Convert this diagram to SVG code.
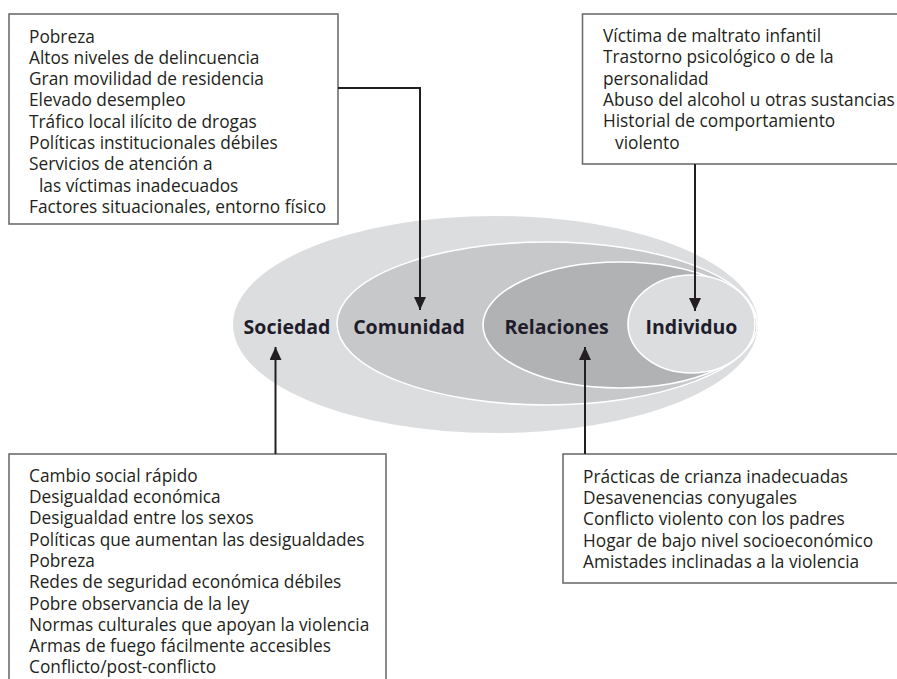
<svg xmlns="http://www.w3.org/2000/svg" width="897" height="679" viewBox="0 0 897 679">
<style>
.box{fill:#fff;stroke:#6d6e71;stroke-width:1.6}
.t{font-family:"Open Sans","Liberation Sans",sans-serif;font-size:17.3px;fill:#231f20}
.lbl{font-family:"Open Sans","Liberation Sans",sans-serif;font-size:19.5px;font-weight:bold;fill:#1f1d2b;text-anchor:middle}
.con{fill:none;stroke:#231f20;stroke-width:2}
.ring{stroke:#fff;stroke-width:1.6}
</style>
<defs>
<marker id="arr" markerUnits="userSpaceOnUse" markerWidth="14" markerHeight="12" refX="13" refY="6" orient="auto">
<path d="M0,0 L13,6 L0,12 z" fill="#231f20"/>
</marker>
</defs>
<rect width="897" height="679" fill="#fff"/>
<g id="ellipses">
<g id="sociedad">
<ellipse cx="495.5" cy="324.5" rx="262.5" ry="108.5" fill="#dcdddf"/>
<text class="lbl" x="287" y="333.5">Sociedad</text>
</g>
<g id="comunidad">
<ellipse class="ring" cx="547" cy="323.5" rx="210" ry="81.5" fill="#c7c8ca"/>
<text class="lbl" x="409" y="333.5">Comunidad</text>
</g>
<g id="relaciones">
<ellipse class="ring" cx="620" cy="325" rx="137" ry="63" fill="#b1b2b4"/>
<text class="lbl" x="556.5" y="333.5">Relaciones</text>
</g>
<g id="individuo">
<ellipse class="ring" cx="691.5" cy="324" rx="63.5" ry="49" fill="#dcdddf"/>
<text class="lbl" x="691.5" y="333.5">Individuo</text>
</g>
</g>
<g id="box-comunidad">
<rect class="box" x="9" y="14" width="329" height="210"/>
<text class="t" x="29" y="42.5">Pobreza</text>
<text class="t" x="29" y="63.8">Altos niveles de delincuencia</text>
<text class="t" x="29" y="85.1">Gran movilidad de residencia</text>
<text class="t" x="29" y="106.4">Elevado desempleo</text>
<text class="t" x="29" y="127.7">Tráfico local ilícito de drogas</text>
<text class="t" x="29" y="149">Políticas institucionales débiles</text>
<text class="t" x="29" y="170.3">Servicios de atención a</text>
<text class="t" x="39" y="191.6">las víctimas inadecuados</text>
<text class="t" x="29" y="212.9">Factores situacionales, entorno físico</text>
</g>
<g id="box-individuo">
<rect class="box" x="582.5" y="14" width="330" height="150"/>
<text class="t" x="603" y="42">Víctima de maltrato infantil</text>
<text class="t" x="603" y="63.3">Trastorno psicológico o de la</text>
<text class="t" x="603" y="84.6">personalidad</text>
<text class="t" x="603" y="105.9">Abuso del alcohol u otras sustancias</text>
<text class="t" x="603" y="127.2">Historial de comportamiento</text>
<text class="t" x="615" y="148.5">violento</text>
</g>
<g id="box-sociedad">
<rect class="box" x="9" y="454" width="377" height="240"/>
<text class="t" x="29" y="481.7">Cambio social rápido</text>
<text class="t" x="29" y="503">Desigualdad económica</text>
<text class="t" x="29" y="524.3">Desigualdad entre los sexos</text>
<text class="t" x="29" y="545.6">Políticas que aumentan las desigualdades</text>
<text class="t" x="29" y="566.9">Pobreza</text>
<text class="t" x="29" y="588.2">Redes de seguridad económica débiles</text>
<text class="t" x="29" y="609.5">Pobre observancia de la ley</text>
<text class="t" x="29" y="630.8">Normas culturales que apoyan la violencia</text>
<text class="t" x="29" y="652.1">Armas de fuego fácilmente accesibles</text>
<text class="t" x="29" y="673.4">Conflicto/post-conflicto</text>
</g>
<g id="box-relaciones">
<rect class="box" x="563" y="454" width="350" height="129"/>
<text class="t" x="583" y="482.7">Prácticas de crianza inadecuadas</text>
<text class="t" x="583" y="504">Desavenencias conyugales</text>
<text class="t" x="583" y="525.3">Conflicto violento con los padres</text>
<text class="t" x="583" y="546.6">Hogar de bajo nivel socioeconómico</text>
<text class="t" x="583" y="567.9">Amistades inclinadas a la violencia</text>
</g>
<g id="connectors">
<polyline class="con" points="338,88 420,88 420,310" marker-end="url(#arr)"/>
<line class="con" x1="695" y1="164" x2="695" y2="311" marker-end="url(#arr)"/>
<line class="con" x1="275.5" y1="454" x2="275.5" y2="347" marker-end="url(#arr)"/>
<line class="con" x1="585" y1="454" x2="585" y2="347" marker-end="url(#arr)"/>
</g>
</svg>
